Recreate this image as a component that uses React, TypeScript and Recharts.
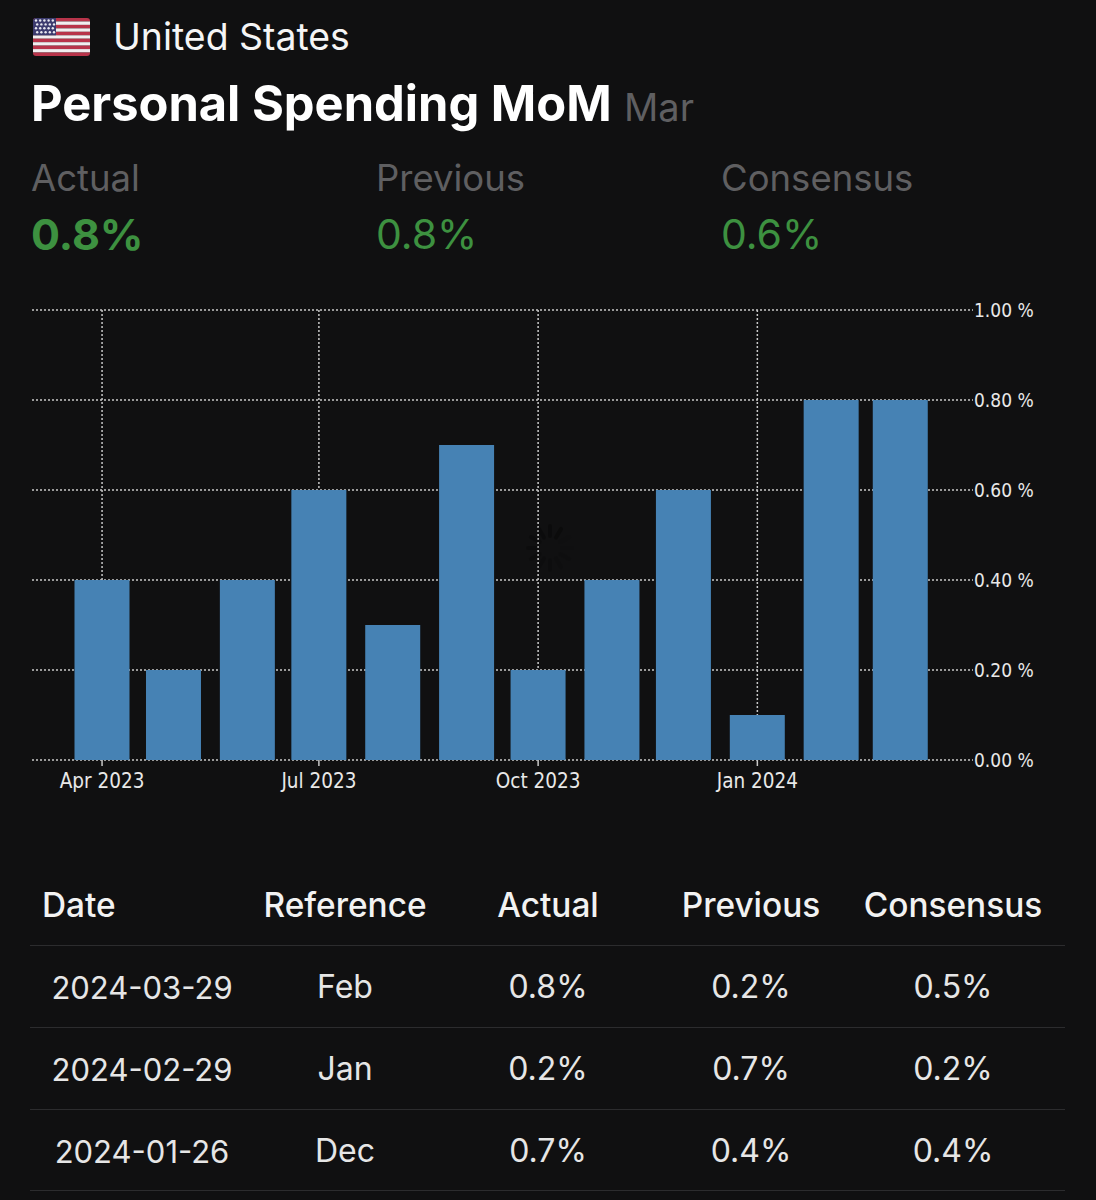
import { BarChart, Bar, XAxis, YAxis, CartesianGrid } from 'recharts';

const DAY = 86400000;
const START = Date.UTC(2023, 3, 1);
const dayOf = (y: number, m: number) => (Date.UTC(y, m, 1) - START) / DAY;

// monthly bars, x is days since Apr 2023 because the source axis is a real time axis
const months: [number, number][] = [
  [2023, 3], [2023, 4], [2023, 5], [2023, 6], [2023, 7], [2023, 8],
  [2023, 9], [2023, 10], [2023, 11], [2024, 0], [2024, 1], [2024, 2],
];
const values = [0.4, 0.2, 0.4, 0.6, 0.3, 0.7, 0.2, 0.4, 0.6, 0.1, 0.8, 0.8];
const yTicks = [0, 0.2, 0.4, 0.6, 0.8, 1];
const xTickMonths: [number, number, string][] = [
  [2023, 3, 'Apr 2023'],
  [2023, 6, 'Jul 2023'],
  [2023, 9, 'Oct 2023'],
  [2024, 0, 'Jan 2024'],
];

const summaryLabels = ['Actual', 'Previous', 'Consensus'];
const summaryValues = ['0.8%', '0.8%', '0.6%'];
const summaryLefts = [32, 377, 722];

const tableHeaders = ['Date', 'Reference', 'Actual', 'Previous', 'Consensus'];
const tableRows = [
  ['2024-03-29', 'Feb', '0.8%', '0.2%', '0.5%'],
  ['2024-02-29', 'Jan', '0.2%', '0.7%', '0.2%'],
  ['2024-01-26', 'Dec', '0.7%', '0.4%', '0.4%'],
];
const columnCenters = [142, 345, 548, 751, 953];

const chartData = months.map(([y, m], i) => ({ day: dayOf(y, m), value: values[i] }));
const xTicks = xTickMonths.map(([y, m]) => dayOf(y, m));
const xLabels: Record<number, string> = {};
xTickMonths.forEach(([y, m, label]) => {
  xLabels[dayOf(y, m)] = label;
});

const UI_FONT = 'Inter, "Noto Sans", sans-serif';
const AXIS_FONT = '"DejaVu Sans Condensed", "DejaVu Sans", sans-serif';
const GREY = '#5f5f61';
const GREEN = '#3d9140';
const DOTS = '#c8c8c8';

function Flag() {
  const stripes = Array.from({ length: 11 }, (_, i) => i);
  const stripeH = 38 / 11;
  const stars: [number, number][] = [];
  for (let r = 0; r < 4; r++) {
    for (let c = 0; c < 5; c++) stars.push([3 + c * 4.2 + (r % 2) * 1.2, 2.5 + r * 3.9]);
  }
  return (
    <svg width={57} height={38} style={{ position: 'absolute', left: 33, top: 18 }}>
      <defs>
        <clipPath id="flagClip">
          <rect width={57} height={38} rx={3} />
        </clipPath>
      </defs>
      <g clipPath="url(#flagClip)">
        {stripes.map(i => (
          <rect key={i} y={i * stripeH} width={57} height={stripeH} fill={i % 2 === 0 ? '#b8344a' : '#f2eef0'} />
        ))}
        <rect width={23} height={stripeH * 5} fill="#3c3b6e" />
        {stars.map(([x, y], i) => (
          <circle key={i} cx={x} cy={y} r={1.2} fill="#e8e8f0" />
        ))}
      </g>
    </svg>
  );
}

function Spinner() {
  const spokes = Array.from({ length: 12 }, (_, i) => i * 30);
  return (
    <svg width={60} height={60} style={{ position: 'absolute', left: 520, top: 518 }}>
      {spokes.map((a, i) => (
        <line
          key={a}
          x1={30}
          y1={18}
          x2={30}
          y2={8}
          stroke="#000"
          strokeWidth={4}
          strokeLinecap="round"
          opacity={0.03 + (i / 12) * 0.3}
          transform={`rotate(${a + 60} 30 30)`}
        />
      ))}
    </svg>
  );
}

function TextAt({ x, y, size, color, weight = 400, center = false, children }: any) {
  return (
    <div
      style={{
        position: 'absolute',
        left: x,
        top: y,
        fontSize: size,
        color,
        fontWeight: weight,
        lineHeight: 1,
        whiteSpace: 'nowrap',
        transform: center ? 'translate(-50%, -50%)' : 'translateY(-50%)',
      }}
    >
      {children}
    </div>
  );
}

export default function App() {
  return (
    <div
      style={{
        position: 'absolute',
        left: 0,
        top: 0,
        width: 1096,
        height: 1200,
        overflow: 'hidden',
        background: '#101011',
        fontFamily: UI_FONT,
      }}
    >
      <Flag />
      <TextAt x={113} y={37} size={37.4} color="#f5f5f5">United States</TextAt>
      <TextAt x={31} y={104} size={48.8} color="#ffffff" weight={700}>Personal Spending MoM</TextAt>
      <TextAt x={624} y={107} size={38} color={GREY}>Mar</TextAt>

      {summaryLabels.map((label, i) => (
        <TextAt key={label} x={summaryLefts[i] - 1} y={178} size={36.5} color={GREY}>{label}</TextAt>
      ))}
      {summaryValues.map((value, i) => (
        <TextAt key={i} x={summaryLefts[i] - 1} y={234} size={i === 0 ? 43 : 41} color={GREEN} weight={i === 0 ? 700 : 400}>
          {value}
        </TextAt>
      ))}

      <div style={{ position: 'absolute', left: 0, top: 290 }}>
        <BarChart
          width={1096}
          height={520}
          data={chartData}
          margin={{ top: 20, right: 0, bottom: 0, left: 32 }}
          barSize={55}
        >
          <CartesianGrid stroke={DOTS} strokeDasharray="2 2" strokeWidth={1.5} syncWithTicks />
          <XAxis
            type="number"
            dataKey="day"
            scale="linear"
            domain={[-29.4, 365.5]}
            ticks={xTicks}
            tickFormatter={(v: number) => xLabels[v]}
            height={50}
            interval={0}
            axisLine={false}
            tickLine={{ stroke: DOTS, strokeWidth: 1.5 }}
            tickSize={6}
            tickMargin={7}
            tick={{ fill: '#e8e8e8', fontSize: 20.5, fontFamily: AXIS_FONT, fontStretch: 'condensed' }}
          />
          <YAxis
            orientation="right"
            domain={[0, 1]}
            ticks={yTicks}
            tickFormatter={(v: number) => `${v.toFixed(2)} %`}
            width={123}
            axisLine={false}
            tickLine={false}
            tickSize={0}
            tickMargin={1}
            tick={{ fill: '#e8e8e8', fontSize: 19, fontFamily: AXIS_FONT, fontStretch: 'condensed' }}
          />
          <Bar dataKey="value" fill="#4682b4" isAnimationActive={false} />
        </BarChart>
      </div>
      <Spinner />

      {tableHeaders.map((h, i) => (
        <TextAt key={h} x={i === 0 ? 42 : columnCenters[i]} y={906} size={33.4} color="#f2f2f2" weight={500} center={i !== 0}>
          {h}
        </TextAt>
      ))}
      {tableRows.map((row, r) => (
        <div key={r}>
          <div style={{ position: 'absolute', left: 30, width: 1035, top: 945 + r * 82, height: 1, background: '#2c2c2e' }} />
          {row.map((cell, c) => (
            <TextAt key={c} x={columnCenters[c]} y={987 + r * 82} size={c === 0 ? 31 : 32} color="#e6e6e6" center>
              {cell}
            </TextAt>
          ))}
        </div>
      ))}
      <div style={{ position: 'absolute', left: 30, width: 1035, top: 1190, height: 1, background: '#2c2c2e' }} />
    </div>
  );
}
